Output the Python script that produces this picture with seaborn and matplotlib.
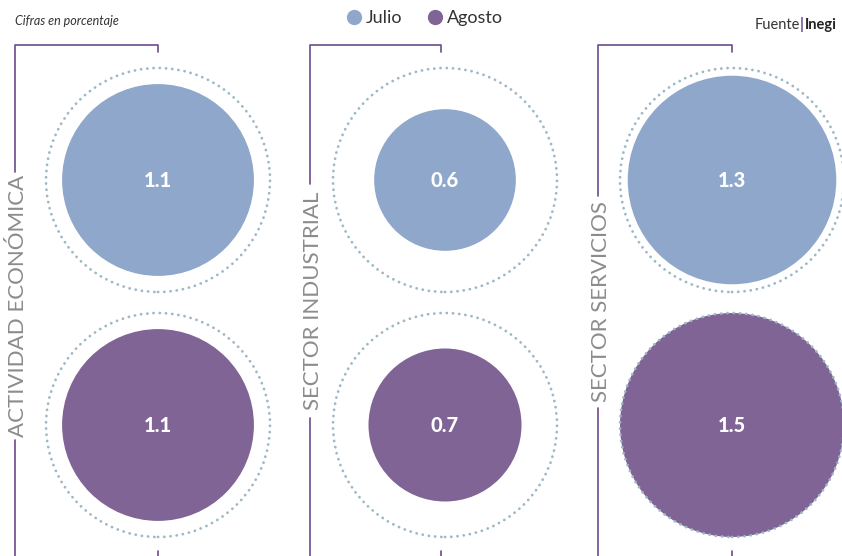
import matplotlib.pyplot as plt
import seaborn as sns
import pandas as pd
from matplotlib.lines import Line2D

# datos (cifras en porcentaje)
sectores = ['ACTIVIDAD ECONÓMICA', 'SECTOR INDUSTRIAL', 'SECTOR SERVICIOS']
meses = ['Julio', 'Agosto']
julio = [1.1, 0.6, 1.3]
agosto = [1.1, 0.7, 1.5]

colores = {'Julio': '#8FA7CB', 'Agosto': '#806496'}
morado = '#6E4A8E'
anillo = '#9DB8C6'

W, H = 842, 556
fig = plt.figure(figsize=(W / 100, H / 100), dpi=100)
ax = fig.add_axes([0, 0, 1, 1])
sns.set_style('white')
plt.rcParams['font.family'] = ['Lato', 'DejaVu Sans']

rows = []
for i, s in enumerate(sectores):
    rows.append({'sector': s, 'mes': 'Julio', 'valor': julio[i], 'x': i, 'y': 0})
    rows.append({'sector': s, 'mes': 'Agosto', 'valor': agosto[i], 'x': i, 'y': 1})
df = pd.DataFrame(rows)

# tamaño del marcador: area proporcional al valor, 1.5 = anillo punteado
vmax = 1.5
smax = (2 * 112 * 0.72) ** 2

# anillos punteados de referencia
ring = ax.scatter(df['x'], df['y'], s=smax, facecolors='none', edgecolors=anillo,
                  linewidths=2.0, zorder=3)
ring.set_linestyle((0, (0.05, 2.2)))
ring.set_capstyle('round')

sns.scatterplot(data=df, x='x', y='y', hue='mes', palette=colores,
                size='valor', sizes=(0, smax), size_norm=(0, vmax),
                linewidth=0, edgecolor='none', legend=False, ax=ax, zorder=2)

for _, r in df.iterrows():
    ax.text(r['x'], r['y'], f"{r['valor']:.1f}", color='white', fontsize=14.5,
            fontweight='black', ha='center', va='center', zorder=4)

# escala: panel 0 -> 158px, panel 2 -> 732px ; Julio -> 180px, Agosto -> 425px
ux = (732 - 158) / 2
uy = 425 - 180
ax.set_xlim(-158 / ux, (W - 158) / ux)
ax.set_ylim((H - 180) / uy, -180 / uy)
ax.axis('off')


def fx(px):
    return px / W


def fy(py):
    return 1 - py / H


def linea(xs, ys):
    fig.add_artist(Line2D([fx(v) for v in xs], [fy(v) for v in ys],
                          color=morado, lw=1.2, transform=fig.transFigure))


# corchetes y etiquetas de cada sector
left_x = [15, 310, 598]
tick_x = [158, 441, 732]
gap_top = [172, 184, 196]
gap_bot = [440, 418, 408]
for i, s in enumerate(sectores):
    lx, tx = left_x[i], tick_x[i]
    linea([tx, tx, lx, lx], [52, 45, 45, gap_top[i]])
    linea([lx, lx], [gap_bot[i], H])
    linea([tx, tx], [551, H])
    fig.text(fx(lx + 3), fy((gap_top[i] + gap_bot[i]) / 2), s, rotation=90,
             ha='center', va='center', fontsize=16, color='#8C8C8C')

# leyenda
handles = [Line2D([], [], marker='o', ls='none', markersize=11,
                  markerfacecolor=colores[m], markeredgecolor='none') for m in meses]
fig.legend(handles, meses, loc='center', bbox_to_anchor=(fx(425), fy(18)), ncol=2,
           frameon=False, fontsize=13, handlelength=0.8, handletextpad=0.25,
           columnspacing=1.4, labelcolor='#333333')

fig.text(fx(15), fy(21), 'Cifras en porcentaje', fontsize=9, style='italic',
         color='#333333', va='center')
fig.text(fx(800), fy(25), 'Fuente', fontsize=10.5, color='#333333', ha='right', va='center')
fig.text(fx(802), fy(25), '|', fontsize=11, color=morado, fontweight='bold',
         ha='center', va='center')
fig.text(fx(805), fy(25), 'Inegi', fontsize=10.5, color='#222222', fontweight='bold',
         ha='left', va='center')

fig.savefig('out.png', dpi=100)
